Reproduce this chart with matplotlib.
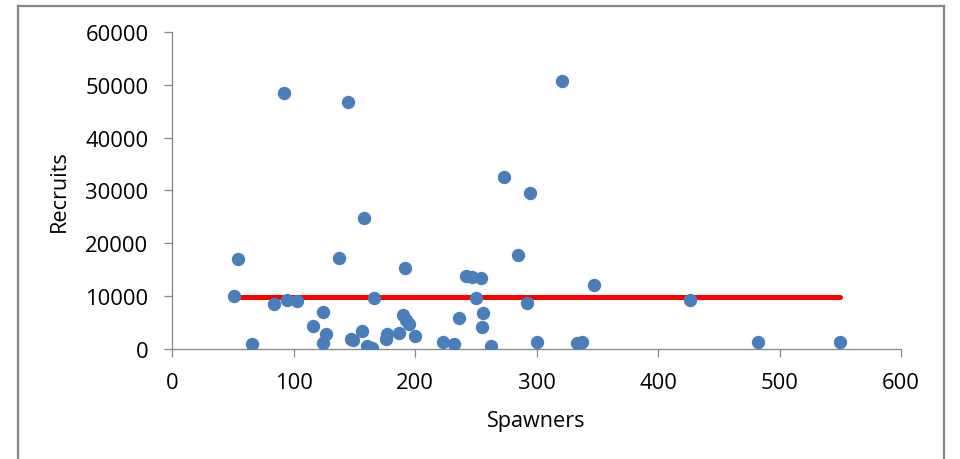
import matplotlib
matplotlib.use('Agg')
import matplotlib.pyplot as plt
from matplotlib.lines import Line2D

plt.rcParams['font.family'] = ['Open Sans', 'DejaVu Sans']

# spawner / recruit pairs
spawners = [51, 54.5, 65.6, 84, 95, 102.6, 92.5, 145.1, 116.3, 124.5,
            124.5, 126.5, 137.4, 147, 149, 156.7, 157.8, 160.8, 164.6, 166.3,
            175.8, 177.2, 186.8, 190.4, 192.6, 195.3, 191.6, 200, 223.3, 232,
            236.4, 242, 247.2, 254, 250, 255.7, 254.9, 262.6, 273.5, 284.5,
            291.9, 294.7, 300.7, 321.2, 333.6, 337.2, 347.3, 426, 482, 549.8]
recruits = [10000, 16900, 800, 8500, 9300, 9050, 48400, 46650, 4350, 7000,
            1100, 2850, 17100, 1900, 1650, 3300, 24700, 450, 150, 9650,
            1900, 2850, 3000, 6350, 5400, 4750, 15300, 2450, 1300, 800,
            5900, 13800, 13550, 13300, 9650, 6700, 4150, 550, 32450, 17800,
            8750, 29500, 1300, 50750, 1100, 1300, 12050, 9250, 1300, 1300]

# constant recruitment fitted over the spawner range
fit_x = [54, 550]
fit_y = [9800, 9800]

fig = plt.figure(figsize=(9.6, 4.6), dpi=100)
ax = fig.add_axes([172 / 960, 1 - 349.7 / 460, 729 / 960, 316.7 / 460])

ax.plot(fit_x, fit_y, color='#FF0000', lw=3.6, solid_capstyle='round', zorder=2)
ax.plot(spawners, recruits, 'o', color='#4A7EBB', ms=8.6, mec='#4A7EBB', zorder=3)

ax.set_xlim(0, 600)
ax.set_ylim(0, 60000)
ax.set_xticks(range(0, 601, 100))
ax.set_yticks(range(0, 60001, 10000))

grey = '#868686'
for side in ['top', 'right']:
    ax.spines[side].set_visible(False)
for side in ['left', 'bottom']:
    ax.spines[side].set_color(grey)
    ax.spines[side].set_linewidth(0.9)
ax.tick_params(axis='both', colors=grey, labelcolor='black', length=6, width=0.9,
               labelsize=15.8)
ax.tick_params(axis='y', pad=11)
ax.tick_params(axis='x', pad=11)

ax.set_xlabel('Spawners', fontsize=15.6, labelpad=12)
ax.set_ylabel('Recruits', fontsize=15.6, labelpad=11)

# outer chart border
for xs, ys in [([18 / 960, 18 / 960], [0, 1 - 7 / 460]),
               ([18 / 960, 944 / 960], [1 - 7 / 460, 1 - 7 / 460]),
               ([944 / 960, 944 / 960], [1 - 7 / 460, 0])]:
    fig.add_artist(Line2D(xs, ys, color=grey, lw=1.6, transform=fig.transFigure))

fig.savefig('out.png', dpi=100)
